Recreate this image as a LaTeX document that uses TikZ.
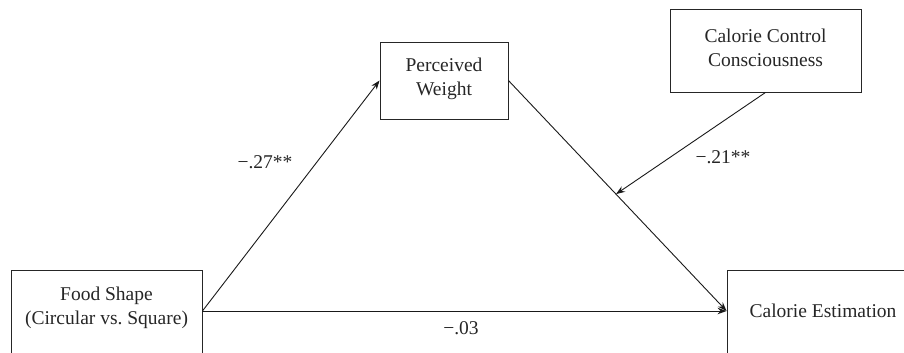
\documentclass[tikz,border=0pt]{standalone}
\usepackage{fontspec}
\setmainfont{Liberation Serif}
\usetikzlibrary{arrows.meta,calc}
\begin{document}
\begin{tikzpicture}[x=1pt,y=1pt,
  box/.style={draw=black!85, line width=0.9pt, inner sep=0pt, align=center},
  txt/.style={font=\fontsize{19.5}{24.5}\selectfont, text=black!85, align=center},
  arr/.style={draw=black!90, line width=0.9pt, -{Stealth[length=9pt,width=6.5pt]}}]
\useasboundingbox (0,0) rectangle (904,353);
\begin{scope}
\clip (0,0) rectangle (904,353);
% boxes
\node[box, minimum width=191pt, minimum height=86pt] (fs) at (106.5,40) {};
\node[box, minimum width=192pt, minimum height=86pt] (ce) at (823,40) {};
\node[box, minimum width=128pt, minimum height=77pt] (pw) at (444,272.5) {};
\node[box, minimum width=191pt, minimum height=83pt] (cc) at (765.5,302.5) {};
% texts
\node[txt] (fst) at (106.5,45) {Food Shape\\(Circular vs.\ Square)};
\node[txt] (cet) at (823,42) {Calorie Estimation};
\node[txt] (pwt) at (444,274) {Perceived\\Weight};
\node[txt] (cct) at (765.5,305) {Calorie Control\\Consciousness};
% connectors
\coordinate (fsE) at ([yshift=2pt]fs.east);
\coordinate (ceW) at ([yshift=2pt]ce.west);
\draw[arr] (fsE) -- (pw.west);
\draw[arr] (fsE) -- (ceW);
\draw[arr] (pw.east) -- (ceW);
\coordinate (mod) at ($(pw.east)!0.493!(ceW)$);
\draw[arr] (cc.south) -- (mod);
% coefficients
\node[txt] (b1) at (265,191) {−.27**};
\node[txt] (b2) at (723,196) {−.21**};
\node[txt] (b3) at (461,25) {−.03};
\end{scope}
\end{tikzpicture}
\end{document}
